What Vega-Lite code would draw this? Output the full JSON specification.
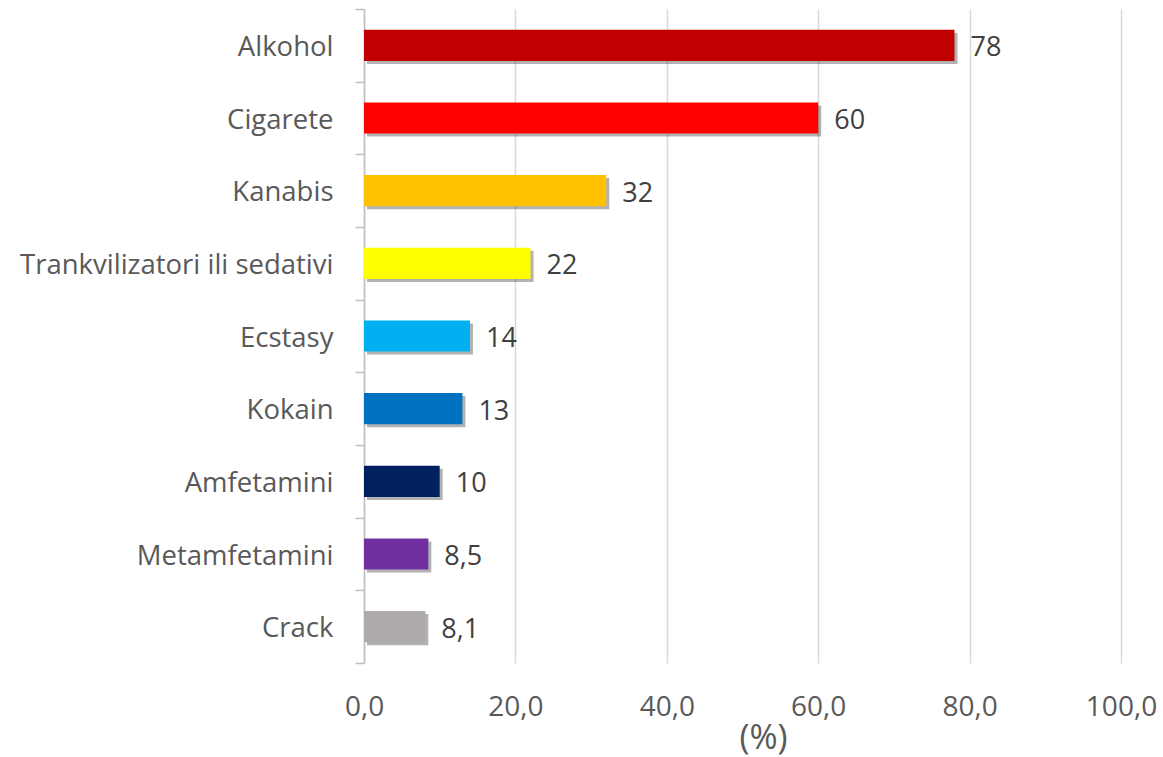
{
  "$schema": "https://vega.github.io/schema/vega-lite/v6.json",
  "autosize": "none",
  "width": 757,
  "height": 654,
  "padding": {"left": 364, "top": 9, "right": 42, "bottom": 94},
  "background": "white",
  "config": {
    "locale": {"number": {"decimal": ",", "thousands": ".", "grouping": [3], "currency": ["", " €"]}},
    "font": "Open Sans",
    "view": {"stroke": null}
  },
  "data": {
    "values": [
      {"cat": "Alkohol", "val": 78, "color": "#C00000"},
      {"cat": "Cigarete", "val": 60, "color": "#FF0000"},
      {"cat": "Kanabis", "val": 32, "color": "#FFC000"},
      {"cat": "Trankvilizatori ili sedativi", "val": 22, "color": "#FFFF00"},
      {"cat": "Ecstasy", "val": 14, "color": "#00B0F0"},
      {"cat": "Kokain", "val": 13, "color": "#0070C0"},
      {"cat": "Amfetamini", "val": 10, "color": "#002060"},
      {"cat": "Metamfetamini", "val": 8.5, "color": "#7030A0"},
      {"cat": "Crack", "val": 8.1, "color": "#AEAAAA"}
    ]
  },
  "encoding": {
    "y": {
      "field": "cat", "type": "nominal", "sort": null,
      "scale": {"paddingInner": 0, "paddingOuter": 0},
      "axis": {
        "title": null, "tickBand": "extent", "grid": false,
        "domainColor": "#BFBFBF", "domainWidth": 1.5,
        "tickColor": "#BFBFBF", "tickWidth": 1.5, "tickSize": 9,
        "labelPadding": 22, "labelFontSize": 27.5, "labelColor": "#595959",
        "labelFont": "Open Sans", "labelLimit": 0, "labelOffset": 2
      }
    },
    "x": {
      "field": "val", "type": "quantitative",
      "scale": {"domain": [0, 100], "nice": false},
      "axis": {
        "values": [0, 20, 40, 60, 80, 100], "format": ".1f",
        "grid": true, "gridColor": "#D9D9D9", "gridWidth": 1.5,
        "domain": false, "ticks": false, "labelFlush": false,
        "labelPadding": 30, "labelFontSize": 28, "labelColor": "#595959",
        "labelFont": "Open Sans",
        "title": "(%)", "titleFontSize": 34, "titleFontWeight": "normal",
        "titleColor": "#595959", "titleFont": "Open Sans",
        "titlePadding": 0, "titleX": 399
      }
    }
  },
  "layer": [
    {
      "mark": {"type": "bar", "color": "#000000", "opacity": 0.3, "xOffset": 3, "yOffset": 3, "height": {"band": 0.43}}
    },
    {
      "mark": {"type": "bar", "height": {"band": 0.43}},
      "encoding": {"color": {"field": "color", "type": "nominal", "scale": null}}
    },
    {
      "mark": {"type": "text", "align": "left", "baseline": "middle", "dx": 16, "dy": 3, "fontSize": 27, "color": "#404040", "font": "Open Sans"},
      "encoding": {"text": {"field": "val", "type": "quantitative", "format": "~g"}}
    }
  ]
}
